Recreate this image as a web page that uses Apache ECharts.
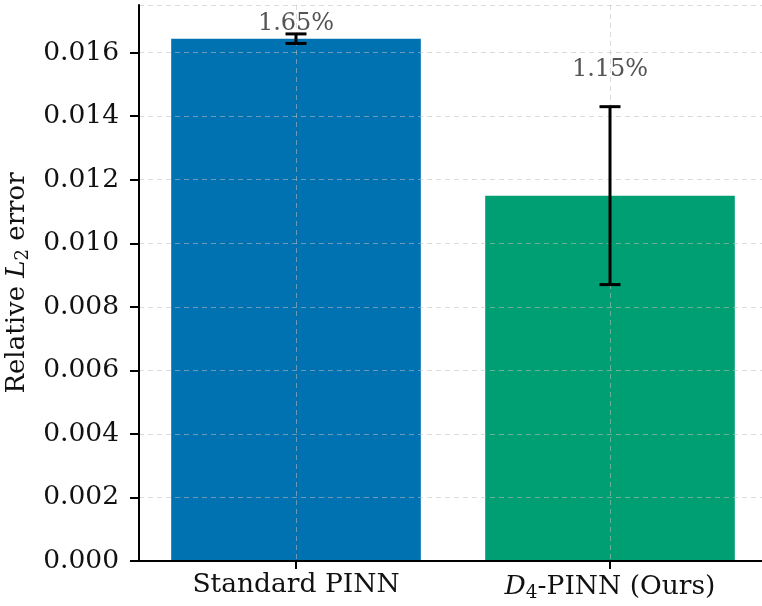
<!DOCTYPE html>
<html>
<head>
<meta charset="utf-8">
<script src="https://cdn.jsdelivr.net/npm/echarts@6/dist/echarts.min.js"></script>
<style>html,body{margin:0;padding:0;background:#fff}#c{width:762px;height:606px}</style>
</head>
<body>
<div id="c"></div>
<script>
const categories = ['Standard PINN', 'D4-PINN (Ours)'];
const categoryLabels = ['Standard PINN', '{i|D}{sub|4}-PINN (Ours)'];
const meanErrors = [0.01644, 0.0115];
const stdErrors = [0.00015, 0.0028];
const percentLabels = ['1.65%', '1.15%'];
const yMin = 0, yMax = 0.0175, yInterval = 0.002;

const barColors = ['#0072B2', '#009E73'];
const labelPixelOffsets = [10, 37];
const FONT = 'DejaVu Serif';
const gridLine = { show: true, interval: 0, lineStyle: { type: [5, 4], color: 'rgba(190,190,190,0.55)', width: 1 } };

const chart = echarts.init(document.getElementById('c'), null, { renderer: 'canvas' });
chart.setOption({
  animation: false,
  backgroundColor: '#fff',
  grid: { left: 139, width: 628, top: 5, bottom: 45, outerBoundsMode: 'none', containLabel: false },
  xAxis: {
    type: 'category',
    data: categories,
    z: 5,
    axisLine: { show: true, lineStyle: { color: '#000', width: 2 } },
    axisTick: { show: true, alignWithLabel: true, interval: 0, length: 8, lineStyle: { color: '#000', width: 2 } },
    splitLine: Object.assign({ alignWithLabel: true }, gridLine),
    axisLabel: {
      interval: 0,
      margin: 11,
      fontFamily: FONT, fontSize: 26.5, color: '#111',
      formatter: (v, i) => categoryLabels[i],
      rich: {
        i: { fontFamily: FONT, fontStyle: 'italic', fontSize: 26.5, color: '#111' },
        sub: { fontFamily: FONT, fontSize: 18.5, color: '#111', padding: [12, 0, 0, 0] }
      }
    }
  },
  yAxis: {
    type: 'value',
    min: yMin, max: yMax, interval: yInterval,
    z: 5,
    axisLine: { show: true, lineStyle: { color: '#000', width: 2 } },
    axisTick: { show: true, length: 9, lineStyle: { color: '#000', width: 2 } },
    splitLine: gridLine,
    axisLabel: {
      margin: 20,
      fontFamily: FONT, fontSize: 26.5, color: '#111',
      formatter: v => v.toFixed(3),
      showMaxLabel: false
    },
    name: '{n|Relative }{i|L}{s|2}{n| error}',
    nameLocation: 'middle',
    nameRotate: 90,
    nameGap: 104,
    nameTextStyle: {
      rich: {
        n: { fontFamily: FONT, fontSize: 26, color: '#111' },
        i: { fontFamily: FONT, fontStyle: 'italic', fontSize: 26, color: '#111' },
        s: { fontFamily: FONT, fontSize: 18, color: '#111', padding: [11, 0, 0, 0] }
      }
    }
  },
  series: [
    {
      type: 'bar',
      barWidth: '79.5%',
      z: 2,
      data: meanErrors.map((v, i) => ({ value: v, itemStyle: { color: barColors[i] } }))
    },
    {
      type: 'custom',
      z: 10,
      data: meanErrors.map((v, i) => [i, v, stdErrors[i]]),
      renderItem: (params, api) => {
        const i = api.value(0), m = api.value(1), s = api.value(2);
        const top = api.coord([i, m + s]);
        const bot = api.coord([i, m - s]);
        const cap = 10.5;
        const st = { stroke: '#000', lineWidth: 3 };
        return {
          type: 'group',
          children: [
            { type: 'text', style: {
                x: top[0], y: top[1] - labelPixelOffsets[params.dataIndex],
                text: percentLabels[params.dataIndex],
                fontFamily: FONT, fontSize: 24, fill: '#555',
                align: 'center', verticalAlign: 'middle'
              } },
            { type: 'line', shape: { x1: top[0], y1: top[1], x2: bot[0], y2: bot[1] }, style: st },
            { type: 'line', shape: { x1: top[0] - cap, y1: top[1], x2: top[0] + cap, y2: top[1] }, style: st },
            { type: 'line', shape: { x1: bot[0] - cap, y1: bot[1], x2: bot[0] + cap, y2: bot[1] }, style: st }
          ]
        };
      }
    }
  ]
});
</script>
</body>
</html>
